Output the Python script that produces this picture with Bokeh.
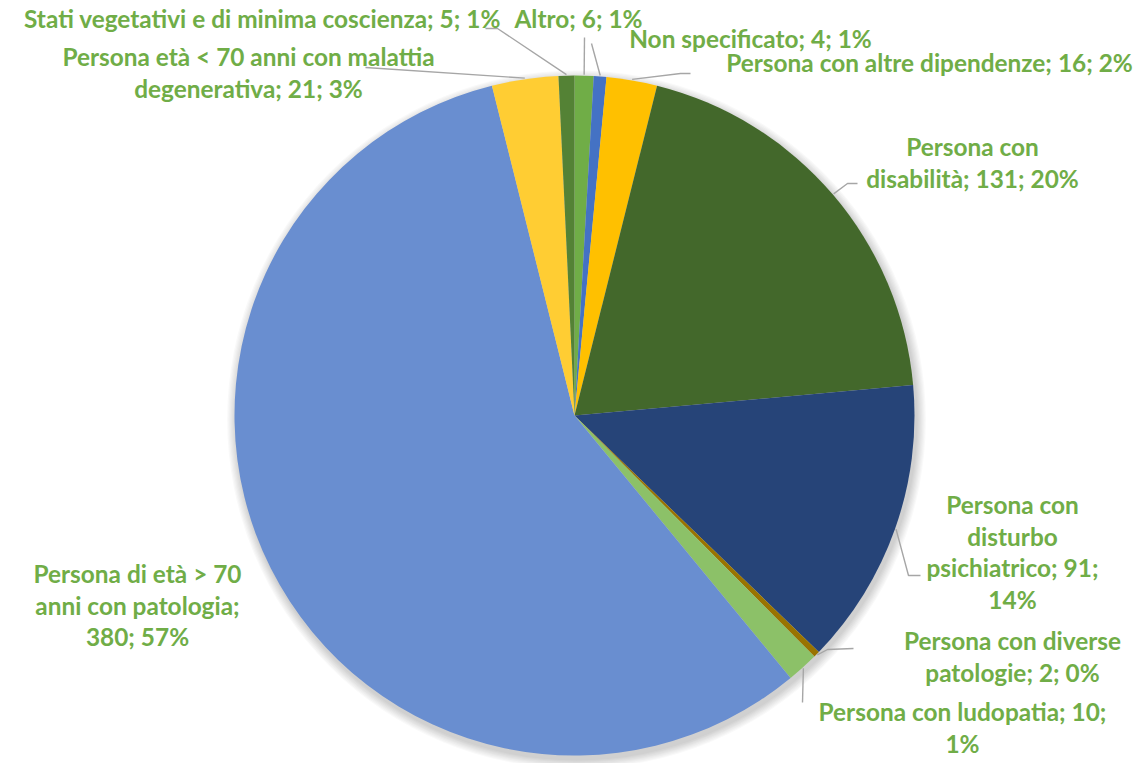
import math
from bokeh.plotting import figure
from bokeh.models import Range1d
from bokeh.embed import file_html
from bokeh.resources import INLINE
from bokeh.core.properties import value

# ---- data (Excel order: alphabetical, clockwise from 12 o'clock) ----
categories = [
    "Altro",
    "Non specificato",
    "Persona  con altre dipendenze",
    "Persona con disabilità",
    "Persona con disturbo psichiatrico",
    "Persona con diverse patologie",
    "Persona con ludopatia",
    "Persona di età > 70 anni con patologia",
    "Persona età < 70 anni con malattia degenerativa",
    "Stati vegetativi e di minima coscienza",
]
values = [6, 4, 16, 131, 91, 2, 10, 380, 21, 5]
percents = [1, 1, 2, 20, 14, 0, 1, 57, 3, 1]

# ---- style ----
colors = ["#70AD47", "#4472C4", "#FFC000", "#43682B", "#264478",
          "#997300", "#8CC168", "#698ED0", "#FFCD33", "#548235"]
LABEL_COLOR = "#70AD47"
LEADER_COLOR = "#A6A6A6"
FONT = "Lato"
FONT_SIZE = "24.4px"
LINE_H = 31.5

W, H = 1148, 763
IMG_H = 763


def Y(y_img):
    return IMG_H - y_img


CX, CY_IMG, R = 574, 415, 340
CY = Y(CY_IMG)

# label layout: (center x, first-line center y in page px, wrap width in chars)
label_pos = [
    (578, 18, None),
    (750, 38, None),
    (932, 62, None),
    (972, 146, 20),
    (1012, 504, 18),
    (1012, 640, 20),
    (962, 711, 26),
    (137, 573, 20),
    (248, 56, 34),
    (262, 18, None),
]
# leader paths after the slice-edge point (page px)
leader_paths = [
    [(584, 37)],
    [(591, 43)],
    [(680, 73), (690, 73)],
    [(847, 183), (857, 183)],
    [(908, 575), (920, 575)],
    [(827, 649), (853, 648)],
    [(802, 702)],
    [],
    [(365, 67)],
    [(497, 28), (485, 28)],
]


def wrap(text, width):
    if width is None:
        return [text]
    words = text.split(" ")
    lines, cur = [], ""
    for w in words:
        cand = w if not cur else cur + " " + w
        if len(cand) <= width or not cur:
            cur = cand
        else:
            lines.append(cur)
            cur = w
    if cur:
        lines.append(cur)
    return lines


p = figure(width=W, height=H, output_backend="svg", toolbar_location=None,
           x_range=Range1d(0, W), y_range=Range1d(IMG_H - H, IMG_H),
           min_border=0)
p.axis.visible = False
p.grid.visible = False
p.outline_line_color = None
p.background_fill_color = "white"

# soft shadow
for k in range(8):
    p.circle(x=CX + 2, y=CY - 4, radius=R + 1 + k * 1.2, fill_color="black",
             fill_alpha=0.022, line_color=None)

total = sum(values)
cum = 0.0
starts, ends, mids = [], [], []
for v in values:
    a0 = cum / total * 2 * math.pi
    cum += v
    a1 = cum / total * 2 * math.pi
    # clockwise from top -> bokeh angles (anticlockwise from +x)
    starts.append(math.pi / 2 - a1)
    ends.append(math.pi / 2 - a0)
    mids.append((a0 + a1) / 2)

p.wedge(x=[CX] * len(values), y=[CY] * len(values), radius=R,
        start_angle=starts, end_angle=ends, fill_color=colors,
        line_color=None, direction="anticlock")

# leader lines
xs, ys = [], []
for i, path in enumerate(leader_paths):
    if not path:
        continue
    m = mids[i]
    sx = CX + (R + 1) * math.sin(m)
    sy = CY + (R + 1) * math.cos(m)
    xs.append([sx] + [pt[0] for pt in path])
    ys.append([sy] + [Y(pt[1]) for pt in path])
p.multi_line(xs=xs, ys=ys, line_color=LEADER_COLOR, line_width=1.4)

# labels
tx, ty, tt = [], [], []
for i, cat in enumerate(categories):
    text = f"{cat}; {values[i]}; {percents[i]}%"
    cx, cy0, width = label_pos[i]
    for j, line in enumerate(wrap(text, width)):
        tx.append(cx)
        ty.append(Y(cy0 + j * LINE_H))
        tt.append(line)
p.text(x=tx, y=ty, text=tt, text_align="center", text_baseline="middle",
       text_font=value(FONT), text_font_style="bold", text_font_size=FONT_SIZE,
       text_color=LABEL_COLOR)

open("out.html", "w").write(file_html(p, INLINE))
